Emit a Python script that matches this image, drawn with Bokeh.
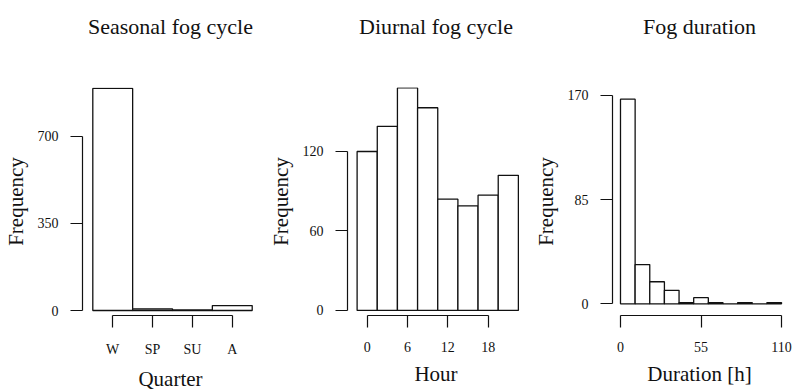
from bokeh.plotting import figure
from bokeh.layouts import row
from bokeh.models import Range1d, FixedTicker, ColumnDataSource, LinearAxis, Title
from bokeh.embed import file_html
from bokeh.resources import INLINE

# ---------------- data ----------------
quarters = ["W", "SP", "SU", "A"]
quarter_counts = [892, 7, 2, 20]
quarter_yticks = [0, 350, 700]

hour_bin_centers = [0, 3, 6, 9, 12, 15, 18, 21]
hour_bin_width = 3
hour_counts = [120, 139, 168, 153, 84, 79, 87, 102]
hour_xticks = [0, 6, 12, 18]
hour_yticks = [0, 60, 120]

duration_breaks = [0, 10, 20, 30, 40, 50, 60, 70, 80, 90, 100, 110]
duration_counts = [167, 32, 18, 11, 1, 5, 1, 0, 1, 0, 1]
duration_xticks = [0, 55, 110]
duration_yticks = [0, 85, 170]

titles = ["Seasonal fog cycle", "Diurnal fog cycle", "Fog duration"]
xlabels = ["Quarter", "Hour", "Duration [h]"]
ylabel = "Frequency"

FONT = "Liberation Serif"
INK = "#111111"


def make_fig(title, xlabel, xr, yr, xticks, yticks, frame_w, bl, br):
    p = figure(x_range=Range1d(*xr), y_range=Range1d(*yr),
               frame_width=frame_w, frame_height=228,
               min_border_left=bl, min_border_right=br,
               min_border_top=87, min_border_bottom=77,
               output_backend="svg", toolbar_location=None,
               background_fill_color="white", border_fill_color="white")
    p.title = None
    p.outline_line_color = None
    p.grid.visible = False

    xax = p.below[0]
    yax = p.left[0]
    for ax, ticks, lab in ((xax, xticks, xlabel), (yax, yticks, ylabel)):
        ax.ticker = FixedTicker(ticks=ticks)
        ax.bounds = (min(ticks), max(ticks))
        ax.axis_line_color = INK
        ax.axis_line_width = 1.2
        ax.major_tick_line_color = INK
        ax.major_tick_line_width = 1.2
        ax.major_tick_out = 12
        ax.major_tick_in = 0
        ax.minor_tick_line_color = None
        ax.major_label_text_font = FONT
        ax.major_label_text_font_size = "14px"
        ax.major_label_text_color = INK
        ax.axis_label = lab
        ax.axis_label_text_font = FONT
        ax.axis_label_text_font_size = "21px"
        ax.axis_label_text_font_style = "normal"
        ax.axis_label_text_color = INK
    xax.major_label_standoff = 14
    xax.axis_label_standoff = 7
    yax.major_label_standoff = 12
    yax.axis_label_standoff = 7

    # empty spacing band between the frame and the title (invisible tick, no label)
    mid = (xr[0] + xr[1]) / 2
    gap = LinearAxis(ticker=FixedTicker(ticks=[mid]), axis_line_color=None,
                     major_tick_line_color=None, minor_tick_line_color=None,
                     major_tick_out=38, major_tick_in=0,
                     major_label_overrides={mid: ""},
                     major_label_text_font_size="1px",
                     major_label_text_color=None,
                     major_label_standoff=0, axis_label_standoff=0)
    p.add_layout(gap, "above")
    p.add_layout(Title(text=title, align="center", text_font=FONT,
                       text_font_size="22px", text_font_style="normal",
                       text_color=INK, standoff=21), "above")
    return p, xax


def bars(p, left, right, top):
    src = ColumnDataSource(dict(left=left, right=right, top=top,
                                bottom=[0] * len(top)))
    p.quad(left="left", right="right", top="top", bottom="bottom", source=src,
           fill_color="white", line_color=INK, line_width=1.3)


# Panel 1: seasonal
q_pos = list(range(1, len(quarters) + 1))
p1, p1x = make_fig(titles[0], xlabels[0], (0.2415, 4.658), (-20, 895.6),
                   q_pos, quarter_yticks, 176, 82, 6)
p1x.major_label_overrides = {i: q for i, q in zip(q_pos, quarters)}
bars(p1, [c - 0.5 for c in q_pos], [c + 0.5 for c in q_pos], quarter_counts)

# Panel 2: diurnal
p2, _ = make_fig(titles[1], xlabels[1], (-2.93, 23.41), (-3.8, 168.3),
                 hour_xticks, hour_yticks, 177, 83, 4)
bars(p2, [c - hour_bin_width / 2 for c in hour_bin_centers],
     [c + hour_bin_width / 2 for c in hour_bin_centers], hour_counts)

# Panel 3: duration
p3, _ = make_fig(titles[2], xlabels[2], (-5.46, 113.4), (-9.55, 176.5),
                 duration_xticks, duration_yticks, 174, 84, 6)
bars(p3, duration_breaks[:-1], duration_breaks[1:], duration_counts)

layout = row(p1, p2, p3)
open("out.html", "w").write(file_html(layout, INLINE))
